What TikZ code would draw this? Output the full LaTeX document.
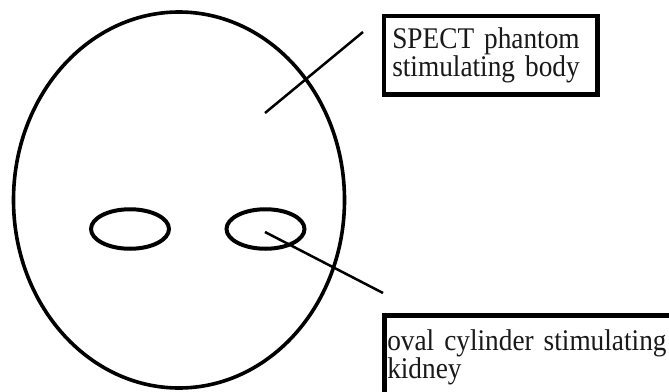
\documentclass[tikz,border=0pt]{standalone}
\usepackage{fontspec}
\setmainfont{Liberation Serif}
\newfontfamily\labelfont[FakeStretch=0.91]{Liberation Serif}
\usepackage{tikz}
\usetikzlibrary{shapes.geometric, positioning}

\begin{document}
\begin{tikzpicture}[
    x=1pt, y=-1pt,
    organ/.style={
        ellipse,
        draw=black,
        line width=4pt,
        inner sep=0pt
    },
    label/.style={
        rectangle,
        draw=black,
        line width=4.5pt,
        fill=white,
        align=left,
        font=\labelfont\fontsize{30}{28}\selectfont,
        text=black!90
    },
    leader/.style={
        draw=black,
        line width=2.5pt
    }
]

\useasboundingbox (0,0) rectangle (669,391);
\clip (0,0) rectangle (669,391);

% Body
\node[organ, line width=3.6pt, minimum width=331pt, minimum height=376pt] (body) at (179,200) {};

% Kidneys
\node[organ, minimum width=78pt, minimum height=39.5pt] (kidneyL) at (130,229) {};
\node[organ, minimum width=78pt, minimum height=39.5pt] (kidneyR) at (265.5,229) {};

% Labels
\node[label, anchor=north west, text width=197pt, inner xsep=8.25pt, minimum height=78.5pt] (bodyLabel) at (381.75,13.75) {SPECT phantom\\stimulating body};
\node[label, anchor=north west, text width=300pt, inner xsep=3pt, inner ysep=14.5pt] (kidneyLabel) at (382,313) {oval cylinder stimulating\\kidney};

% Leader lines
\coordinate (bodyPt) at (265,113);
\coordinate (bodyTip) at (363,32);
\coordinate (kidneyPt) at (265,232);
\coordinate (kidneyTip) at (383,293);
\draw[leader] (bodyPt) -- (bodyTip);
\draw[leader] (kidneyPt) -- (kidneyTip);

\end{tikzpicture}
\end{document}
